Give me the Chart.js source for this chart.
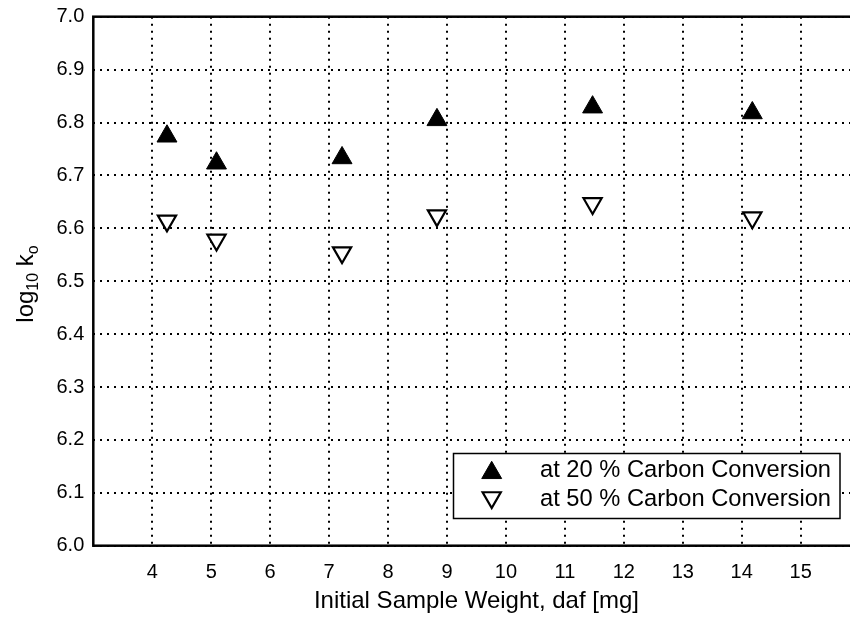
<!DOCTYPE html>
<html>
<head>
<meta charset="utf-8">
<script src="https://cdn.jsdelivr.net/npm/chart.js@4/dist/chart.umd.min.js"></script>
<style>
  html, body { margin:0; padding:0; background:#fff; overflow:hidden; }
  #wrap { width:850px; height:621px; overflow:hidden; }
</style>
</head>
<body>
<div id="wrap"><canvas id="c" width="880" height="621"></canvas></div>
<script>
/* DATA */
const weights = [4.25, 5.09, 7.22, 8.83, 11.47, 14.18];
const logK20 = [6.774, 6.723, 6.733, 6.805, 6.829, 6.818];
const logK50 = [6.614, 6.578, 6.554, 6.624, 6.647, 6.620];
const xTicks = [4, 5, 6, 7, 8, 9, 10, 11, 12, 13, 14, 15];
const yTicks = [6.0, 6.1, 6.2, 6.3, 6.4, 6.5, 6.6, 6.7, 6.8, 6.9, 7.0];
const labels = ["at 20 % Carbon Conversion", "at 50 % Carbon Conversion"];

const FONT = "'Liberation Sans', Arial, sans-serif";

const toPts = (ys)=>weights.map((x,i)=>({ x, y: ys[i] }));

/* frame, legend and y title */
const extras = {
  id: "extras",
  afterDraw(chart){
    const { ctx, chartArea: a } = chart;
    ctx.save();
    // frame
    ctx.strokeStyle = "#000"; ctx.lineWidth = 2.5;
    ctx.strokeRect(a.left, a.top, a.right - a.left, a.bottom - a.top);

    // legend box
    const bx = 453.5, by = 453.5, bw = 386.5, bh = 65;
    ctx.fillStyle = "#fff"; ctx.fillRect(bx, by, bw, bh);
    ctx.lineWidth = 1.5; ctx.strokeRect(bx, by, bw, bh);
    const rows = [470.8, 499.5];
    chart.data.datasets.forEach((ds, i)=>{
      const cy = i === 0 ? rows[i] + 2 : rows[i] - 2;
      ctx.fillStyle = ds.backgroundColor; ctx.strokeStyle = ds.borderColor; ctx.lineWidth = ds.borderWidth;
      Chart.helpers.drawPoint(ctx, {
        pointStyle: ds.pointStyle, rotation: ds.pointRotation, radius: ds.pointRadius,
        borderWidth: ds.borderWidth
      }, 491.7, cy);
      ctx.fillStyle = "#000";
      ctx.font = "23.7px " + FONT;
      ctx.textBaseline = "middle"; ctx.textAlign = "left";
      ctx.fillText(ds.label, 540, rows[i]);
    });

    // y axis title: log10 ko
    ctx.translate(33, 284);
    ctx.rotate(-Math.PI / 2);
    ctx.textBaseline = "alphabetic"; ctx.textAlign = "left";
    const parts = [["log", 24, 0], ["10", 16, 5], [" k", 24, 0], ["o", 16, 5]];
    let total = 0;
    parts.forEach(p=>{ ctx.font = p[1] + "px " + FONT; total += ctx.measureText(p[0]).width; });
    let x = -total / 2;
    parts.forEach(p=>{
      ctx.font = p[1] + "px " + FONT;
      ctx.fillText(p[0], x, p[2]);
      x += ctx.measureText(p[0]).width;
    });
    ctx.restore();
  }
};

new Chart(document.getElementById("c"), {
  type: "scatter",
  data: {
    datasets: [
      { label: labels[0], data: toPts(logK20), pointStyle: "triangle", pointRotation: 0,
        pointRadius: 11.5, pointHoverRadius: 11.5, backgroundColor: "#000", borderColor: "#000", borderWidth: 1 },
      { label: labels[1], data: toPts(logK50), pointStyle: "triangle", pointRotation: 180,
        pointRadius: 10.5, pointHoverRadius: 10.5, backgroundColor: "#fff", borderColor: "#000", borderWidth: 2.2 }
    ]
  },
  options: {
    responsive: false,
    animation: false,
    events: [],
    layout: { padding: { top: 16.7, right: 20.4, left: 0, bottom: 0 } },
    plugins: { legend: { display: false }, tooltip: { enabled: false } },
    scales: {
      x: {
        type: "linear", min: 3, max: 16,
        afterBuildTicks: (s)=>{ s.ticks = xTicks.map(v=>({ value: v })); },
        afterFit: (s)=>{ s.height = 75.3; },
        grid: { color: "#000", lineWidth: 2, drawTicks: false },
        border: { display: false, dash: [2, 5] },
        ticks: { color: "#000", padding: 15, font: { family: FONT, size: 20 }, maxRotation: 0 },
        title: { display: true, text: "Initial Sample Weight, daf [mg]", color: "#000",
                 font: { family: FONT, size: 24 }, padding: { top: 0, bottom: 5 } }
      },
      y: {
        type: "linear", min: 6, max: 7,
        afterBuildTicks: (s)=>{ s.ticks = yTicks.map(v=>({ value: v })); },
        afterFit: (s)=>{ s.width = 93.3; },
        grid: { color: "#000", lineWidth: 2, drawTicks: false },
        border: { display: false, dash: [2, 5] },
        ticks: { color: "#000", padding: 9, font: { family: FONT, size: 20, lineHeight: 0.7 },
                 callback: (v)=>Number(v).toFixed(1) }
      }
    }
  },
  plugins: [extras]
});
</script>
</body>
</html>
